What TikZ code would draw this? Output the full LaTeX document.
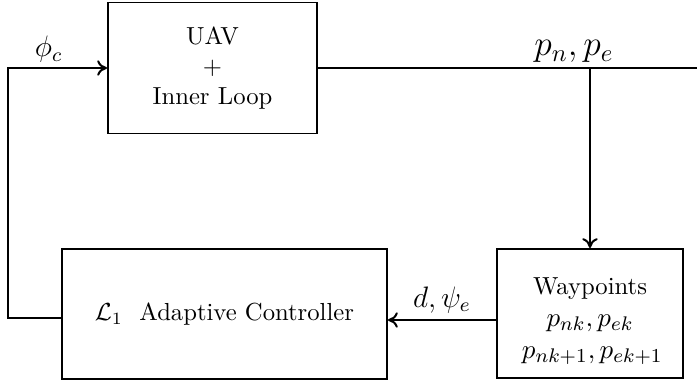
\documentclass[tikz,border=0pt]{standalone}
\usepackage{amsmath,amssymb}
\usepackage{tikz}
\usetikzlibrary{arrows.meta,positioning,calc}
\tikzset{
  blockbox/.style={draw, thick, align=center, inner sep=0pt},
  arr/.style={-{To[length=1.4mm,width=2.2mm]}, thick},
  sig/.style={font=\large}
}
\begin{document}
\begin{tikzpicture}[x=0.01425cm,y=-0.01425cm, line width=0.6pt]
    \useasboundingbox (0,0) rectangle (697,383);
    % blocks
    \node[blockbox, minimum width=209*0.01425cm, minimum height=131*0.01425cm]
      (uav) at (212.5,68) {UAV\\+\\Inner Loop};
    \node[blockbox, minimum width=325*0.01425cm, minimum height=130*0.01425cm]
      (ctrl) at (224.5,314) {$\mathcal{L}_1$\ \ Adaptive Controller};
    \node[blockbox, minimum width=186*0.01425cm, minimum height=129*0.01425cm]
      (wp) at (590,313.5) {\rule{0pt}{13pt}Waypoints\\[1pt]{\fontsize{11}{13}\selectfont$p_{nk},p_{ek}$}\\[1pt]{\fontsize{11}{13}\selectfont\,$p_{nk+1},p_{ek+1}$}};
    % signals
    \coordinate (out) at (697,68);
    \coordinate (split) at (wp.north |- out);
    \coordinate (fb) at (8,318);
    \draw (uav.east) -- (out);
    \draw[arr] (split) -- (wp.north);
    \draw[arr] (wp.west |- 0,320) -- (ctrl.east |- 0,320)
      node[midway, above=-1pt, sig] {$d,\psi_e$};
    \draw[arr] (ctrl.west |- fb) -- (fb) |- (uav.west)
      node[pos=0.705, above=-1.5pt, sig] {$\phi_c$};
    \node[font=\Large, above=-1.5pt] (pnpe) at ($(split)+(-16,0)$) {$p_n,p_e$};
  \end{tikzpicture}
\end{document}
